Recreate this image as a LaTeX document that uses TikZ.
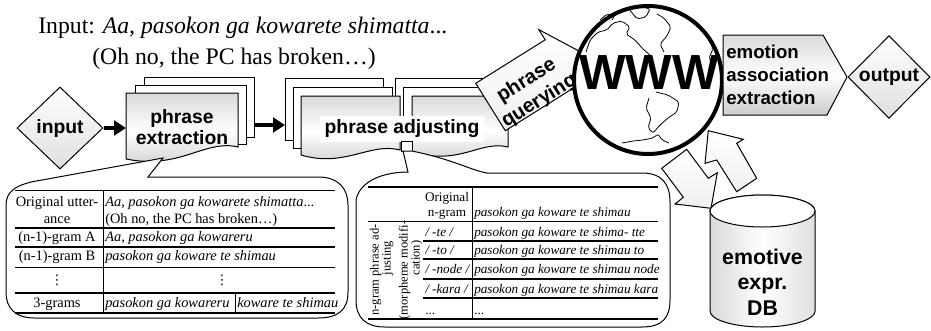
\documentclass[tikz,border=0pt]{standalone}
\usepackage{fontspec}
\setmainfont{Liberation Serif}
\setsansfont{Liberation Sans}
\newfontfamily\symfont{DejaVu Sans}
\usetikzlibrary{arrows.meta,shapes.geometric}
\begin{document}
\begin{tikzpicture}[x=0.75pt,y=-0.75pt,
  outline/.style={draw=black,line width=0.75pt},
  sheetback/.style={outline,fill=white},
  docfill/.style={outline,top color=gray!30,bottom color=gray!40,middle color=white},
  softfill/.style={outline,top color=white,bottom color=gray!25},
  lightfill/.style={outline,top color=white,bottom color=gray!12},
  lbl/.style={font=\sffamily\bfseries\fontsize{14.5}{15.5}\selectfont,align=center,inner sep=0pt},
  flow/.style={line width=3pt,-{Triangle[length=9pt,width=11pt]}},
  headtext/.style={font=\fontsize{17.8}{20}\selectfont,inner sep=0pt},
  lcell/.style={font=\fontsize{10.8}{12}\selectfont,inner sep=0pt,text height=1.5ex,text depth=.25ex},
  lcelli/.style={lcell,font=\fontsize{10.8}{12}\selectfont\itshape},
  vdotcell/.style={font=\symfont\fontsize{10}{10}\selectfont,inner sep=0pt},
  rcell/.style={font=\fontsize{9.9}{11}\selectfont,inner sep=0pt,text height=1.5ex,text depth=.25ex},
  rcelli/.style={rcell,font=\fontsize{9.9}{11}\selectfont\itshape},
  rotcell/.style={font=\fontsize{9.4}{10}\selectfont,inner sep=0pt,text height=1.4ex,text depth=.2ex,rotate=90},
  rulethick/.style={line width=1.3pt},
  rulemid/.style={line width=0.9pt},
  rulethin/.style={line width=0.6pt},
  bubble/.style={draw=black,line width=0.75pt,fill=white},
  maplines/.style={line width=0.6pt,rounded corners=1.5pt},
]
\useasboundingbox (0,0) rectangle (931,330);

% ---- example sentence ----
\node[headtext,anchor=base west] (inline) at (38,33) {Input: \textit{Aa, pasokon ga kowarete shimatta}...};
\node[headtext,anchor=base west] (transl) at (92,64) {(Oh no, the PC has broken…)};

% ---- input ----
\node[diamond,softfill,minimum width=64.5pt,minimum height=61.5pt,inner sep=0pt,lbl] (input) at (60,128) {input};

% ---- phrase extraction (stack of documents) ----
\path[sheetback] (144,77) rectangle (254,137);
\path[sheetback] (135,85) rectangle (246,144);
\path[docfill] (126,93) -- (238,93) -- (238,147) .. controls (205,139) and (180,170) .. (126,159) -- cycle;
\node[lbl] (extract) at (182,127) {phrase\\extraction};
\coordinate (exW) at (126,128);
\coordinate (exE) at (254,125);
\coordinate (adjW) at (285,125);

% ---- phrase adjusting (two stacks of documents) ----
\path[sheetback] (285,78) rectangle (383,140);
\path[sheetback] (293,87) rectangle (392,148);
\path[sheetback] (395,78) rectangle (490,135);
\path[sheetback] (403,87) rectangle (500,141);
\path[docfill] (301,96) -- (400,96) -- (400,150) .. controls (370,142) and (345,168) .. (301,155) -- cycle;
\path[docfill] (412,96) -- (508,96) -- (508,147) .. controls (480,140) and (460,166) .. (412,152) -- cycle;
\path[fill=white] (320,116) rectangle (484,142);
\node[lbl] (adjust) at (402,129) {phrase adjusting};
\path[sheetback] (401,141) rectangle (412,151);

% ---- flow arrows ----
\draw[flow] (input.east) -- (exW);
\draw[flow] (exE) -- (adjW);

% ---- phrase querying block arrow ----
\path[lightfill] (475.7,83.3) -- (545.2,39.8) -- (538.8,29.6) -- (579.5,51.3)
  -- (581.2,97.4) -- (574.8,87.2) -- (505.3,130.7) -- cycle;
\node[lbl,font=\sffamily\bfseries\fontsize{15}{18}\selectfont,rotate=32] (query) at (533,91) {phrase\\querying};

% ---- globe ----
\path[fill=white] (648,80) circle[radius=55.5pt];
% continents
\draw[maplines] (586,52) -- (590,40) -- (598,32) -- (607,30) -- (613,23) -- (622,21) -- (630,27) -- (626,34) -- (635,40) -- (643,49) -- (651,56);
\draw[maplines] (600,20) -- (607,14) -- (615,15) -- (612,20);
\draw[maplines] (629,9) -- (639,6) -- (650,9) -- (646,17) -- (637,19) -- cycle;
\draw[maplines] (657,14) -- (664,18) -- (671,27) -- (667,36) -- (660,44) -- (664,52);
\draw[maplines] (701,28) -- (708,37) -- (713,49) -- (709,58) -- (713,66);
\draw[maplines] (656,92) -- (668,95) -- (679,102) -- (677,112) -- (668,118) -- (660,125) -- (653,133) -- (648,128) -- (651,118) -- (646,108) -- (649,98);
\draw[maplines] (622,143) -- (633,141) -- (643,140) -- (653,138) -- (658,134) -- (662,140) -- (669,143);
\draw[line width=3pt] (648,80) circle[radius=55.5pt];
\node[font=\sffamily\bfseries\fontsize{37}{37}\selectfont,inner sep=0pt] (www) at (649,72.5) {WWW};

% ---- emotion association extraction ----
\path[docfill] (723,35) -- (823,35) -- (847,77) -- (827,115) -- (723,115) -- cycle;
\node[lbl,font=\sffamily\bfseries\fontsize{14}{17.25}\selectfont,align=left,anchor=west] (emo) at (726,75) {emotion\\association\\extraction};

% ---- output ----
\node[diamond,softfill,minimum width=61.5pt,minimum height=62pt,inner sep=0pt,lbl] (output) at (889,77) {output};

% ---- exchange arrows between the web and the database ----
\path[lightfill] (661.7,168.3) -- (686.7,149.3) -- (708.3,178.3) -- (717.3,172.7) -- (711,208.3) -- (675,204) -- (683.3,197.3) -- cycle;
\path[lightfill] (708.3,130.7) -- (743.3,139.3) -- (736.7,143.3) -- (756.7,178.3) -- (736.7,191.7) -- (716.7,160) -- (705,163.3) -- cycle;

% ---- database cylinder ----
\path[outline,left color=gray!30,right color=gray!25,middle color=white]
  (710,211) -- (710,311) arc[start angle=180,end angle=360,x radius=39.4pt,y radius=12pt]
  -- (815,211) arc[start angle=0,end angle=180,x radius=39.4pt,y radius=12pt] -- cycle;
\draw[outline,fill=white] (762.5,211) ellipse[x radius=39.4pt,y radius=12pt];
\node[lbl,font=\sffamily\bfseries\fontsize{16}{19}\selectfont] (db) at (762.5,282) {emotive\\expr.\\DB};

% ---- callout for phrase extraction ----
\path[bubble] (163,158) -- (148,177) -- (318,177) .. controls (340,177) and (348,190) .. (348,205)
  -- (348,292) .. controls (348,310) and (338,318) .. (318,318) -- (35,318)
  .. controls (15,318) and (6,308) .. (6,292) -- (6,205) .. controls (6,192) and (15,184) .. (42,180) -- cycle;

% ---- callout for phrase adjusting ----
\path[bubble] (403,151) -- (408,172) .. controls (385,172) and (360,180) .. (356,200)
  -- (356,300) .. controls (356,318) and (366,327) .. (385,327) -- (642,327)
  .. controls (662,327) and (670,318) .. (670,300) -- (670,202) .. controls (670,184) and (662,173) .. (642,173)
  -- (487,173) .. controls (470,170) and (455,160) .. (412,151) -- cycle;

% ---- table: n-grams ----
\draw[rulethick] (15,190.5) -- (335,190.5);
\draw[rulethin] (103,190.5) -- (103,313);
\draw[rulemid] (15,228) -- (335,228);
\draw[rulemid] (15,247) -- (335,247);
\draw[rulethin] (15,267) -- (335,267);
\draw[rulemid] (15,293) -- (335,293);
\draw[rulethin] (235,293) -- (235,313);
\draw[rulethick] (15,313) -- (335,313);
\node[lcell] (l1a) at (57,203) {Original utter-};
\node[lcell] (l1b) at (57,220) {ance};
\node[lcelli,anchor=west] (l1c) at (105,203) {Aa, pasokon ga kowarete shimatta\textup{...}};
\node[lcell,anchor=west] (l1d) at (105,220) {(Oh no, the PC has broken…)};
\node[lcell] (l2a) at (57,238) {(n-1)-gram A};
\node[lcelli,anchor=west] (l2b) at (105,238) {Aa, pasokon ga kowareru};
\node[lcell] (l3a) at (57,257) {(n-1)-gram B};
\node[lcelli,anchor=west] (l3b) at (105,257) {pasokon ga koware te shimau};
\node[vdotcell] (l4a) at (57,280) {⋮};
\node[vdotcell] (l4b) at (222,280) {⋮};
\node[lcell] (l5a) at (57,304) {3-grams};
\node[lcelli,anchor=west] (l5b) at (105,304) {pasokon ga kowareru};
\node[lcelli,anchor=west] (l5c) at (237,304) {koware te shimau};

% ---- table: phrase adjusting ----
\draw[rulethick] (368,187) -- (658,187);
\draw[rulethin] (472,187) -- (472,319);
\draw[rulethin] (368,221) -- (658,221);
\draw[rulemid] (423,241) -- (658,241);
\draw[rulemid] (423,259) -- (658,259);
\draw[rulemid] (423,279) -- (658,279);
\draw[rulemid] (423,298) -- (658,298);
\draw[rulethick] (368,319) -- (658,319);
\node[rcell] (r0a) at (447,198) {Original};
\node[rcell] (r0b) at (447,213) {n-gram};
\node[rcelli,anchor=west] (r0c) at (474,213) {pasokon ga koware te shimau};
\node[rotcell] (rv1) at (375,270) {n-gram phrase ad-};
\node[rotcell] (rv2) at (387,258) {justing};
\node[rotcell] (rv3) at (404,270) {(morpheme modifi-};
\node[rotcell] (rv4) at (416,258) {cation)};
\node[rcelli,anchor=west] (r1a) at (425,233) {/ -te /};
\node[rcelli,anchor=west] (r1b) at (474,233) {pasokon ga koware te shima- tte};
\node[rcelli,anchor=west] (r2a) at (425,251) {/ -to /};
\node[rcelli,anchor=west] (r2b) at (474,251) {pasokon ga koware te shimau to};
\node[rcelli,anchor=west] (r3a) at (425,270) {/ -node /};
\node[rcelli,anchor=west] (r3b) at (474,270) {pasokon ga koware te shimau node};
\node[rcelli,anchor=west] (r4a) at (425,290) {/ -kara /};
\node[rcelli,anchor=west] (r4b) at (474,290) {pasokon ga koware te shimau kara};
\node[rcell,anchor=west] (r5a) at (425,311) {...};
\node[rcell,anchor=west] (r5b) at (474,311) {...};
\end{tikzpicture}
\end{document}
